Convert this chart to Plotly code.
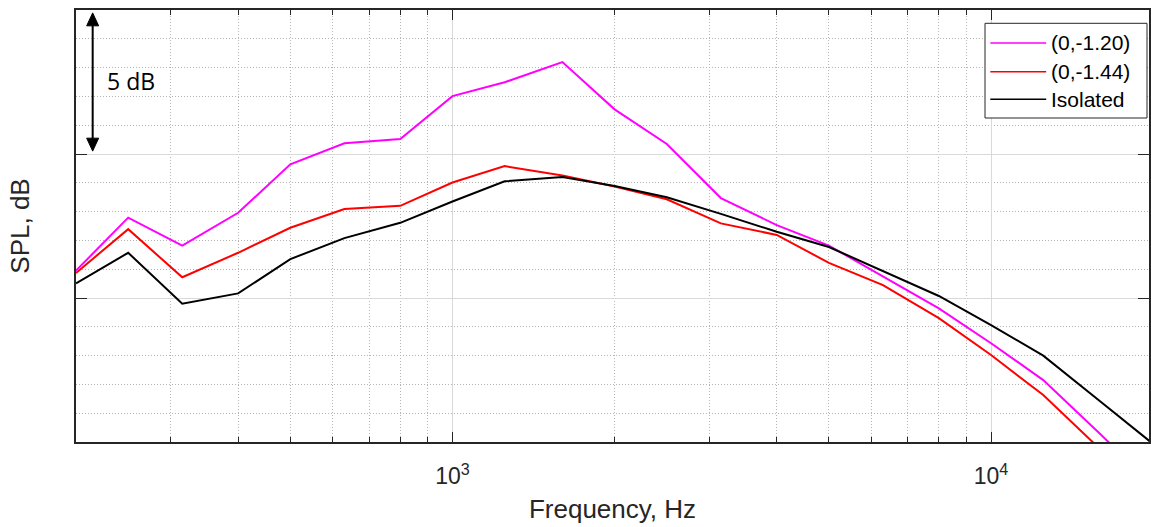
import numpy as np
import plotly.graph_objects as go

# 1/3-octave band centre frequencies (Hz)
freqs = [200, 250, 315, 400, 500, 630, 800, 1000, 1250, 1600, 2000,
         2500, 3150, 4000, 5000, 6300, 8000, 10000, 12500, 16000, 20000]

# Relative SPL per band (dB)
spl_120 = [5.95, 7.79, 6.82, 7.96, 9.64, 10.37, 10.52, 12.01, 12.49, 13.19, 11.55,
           10.35, 8.47, 7.53, 6.82, 5.75, 4.64, 3.43, 2.15, 0.25, -1.5]
spl_144 = [5.87, 7.39, 5.72, 6.57, 7.44, 8.09, 8.20, 9.01, 9.58, 9.25, 8.87,
           8.43, 7.59, 7.19, 6.22, 5.45, 4.30, 3.02, 1.63, -0.26, -2.0]
spl_iso = [5.51, 6.57, 4.80, 5.16, 6.35, 7.08, 7.61, 8.35, 9.05, 9.20, 8.89,
           8.50, 7.92, 7.30, 6.77, 5.94, 5.07, 4.06, 3.00, 1.39, -0.07]

series_names = ["(0,-1.20)", "(0,-1.44)", "Isolated"]
series_colors = ["#FF00FF", "#FF0000", "#000000"]
series_values = [spl_120, spl_144, spl_iso]

minor_freqs = [300, 400, 500, 600, 700, 800, 900,
               2000, 3000, 4000, 5000, 6000, 7000, 8000, 9000, 20000]

AX = "#262626"
FONT = "Liberation Sans, Arial, sans-serif"

fig = go.Figure()
for name, col, vals in zip(series_names, series_colors, series_values):
    fig.add_trace(go.Scatter(x=freqs, y=vals, mode="lines", name=name,
                             line=dict(color=col, width=2), showlegend=False))

W, H = 1151, 527
ml, mr, mt, mb = 76, 0, 10, 85
pw, ph = W - ml - mr, H - mt - mb

def px(xp):
    return (xp - ml) / pw

def py(yp):
    return (H - mb - yp) / ph

fig.update_layout(
    width=W, height=H,
    margin=dict(l=ml, r=mr, t=mt, b=mb, pad=0),
    plot_bgcolor="white", paper_bgcolor="white",
    showlegend=False,
    font=dict(family=FONT, color=AX),
    xaxis=dict(
        type="log", range=[np.log10(200), 4.29325],
        tickvals=[1000, 10000], ticktext=["10<sup>3</sup>", "10<sup>4</sup>"],
        tickfont=dict(size=23, family=FONT, color=AX),
        ticklabelstandoff=13,
        ticks="inside", ticklen=10, tickwidth=1, tickcolor=AX,
        showline=True, linecolor=AX, linewidth=1.5, mirror="ticks",
        showgrid=True, gridcolor="#d9d9d9", gridwidth=1, zeroline=False,
        minor=dict(tickvals=minor_freqs, ticks="inside", ticklen=5, tickwidth=1,
                   tickcolor=AX, showgrid=True, gridcolor="#b4b4b4",
                   griddash="1px,2px", gridwidth=1),
        title=dict(text="Frequency, Hz", font=dict(size=26, family=FONT, color=AX),
                   standoff=11),
    ),
    yaxis=dict(
        range=[0, 15], tickvals=[0, 5, 10, 15], showticklabels=False,
        ticks="inside", ticklen=11, tickwidth=1, tickcolor=AX,
        showline=True, linecolor=AX, linewidth=1.5, mirror="ticks",
        showgrid=True, gridcolor="#d9d9d9", gridwidth=1, zeroline=False,
        minor=dict(dtick=1, ticks="", showgrid=True, gridcolor="#b4b4b4",
                   griddash="1px,2px", gridwidth=1),
        title=dict(text="SPL, dB", font=dict(size=26, family=FONT, color=AX),
                   standoff=37),
    ),
)

# 5 dB scale marker: double-headed arrow spanning one major grid interval
ax_x = px(92.7)
hw = 6 / pw
tip_top, tip_bot, head = 14.9, 10.1, 0.45
fig.add_shape(type="line", xref="paper", yref="y", x0=ax_x, x1=ax_x,
              y0=tip_bot + head * 0.5, y1=tip_top - head * 0.5,
              line=dict(color="black", width=2))
fig.add_shape(type="path", xref="paper", yref="y",
              path=f"M {ax_x},{tip_top} L {ax_x - hw},{tip_top - head} L {ax_x + hw},{tip_top - head} Z",
              fillcolor="black", line=dict(color="black", width=1))
fig.add_shape(type="path", xref="paper", yref="y",
              path=f"M {ax_x},{tip_bot} L {ax_x - hw},{tip_bot + head} L {ax_x + hw},{tip_bot + head} Z",
              fillcolor="black", line=dict(color="black", width=1))
fig.add_annotation(text="5 dB", xref="paper", yref="y", x=px(105), y=12.55,
                   xanchor="left", yanchor="middle", showarrow=False,
                   font=dict(family="Open Sans, DejaVu Sans, sans-serif", size=23, color="black"))

# Legend box
fig.add_shape(type="rect", xref="paper", yref="paper",
              x0=px(986.7), x1=px(1149), y0=py(118), y1=py(23.3),
              fillcolor="white", line=dict(color=AX, width=1), layer="above")
row_y = [43, 71.7, 99.3]
for name, col, ry in zip(series_names, series_colors, row_y):
    fig.add_shape(type="line", xref="paper", yref="paper",
                  x0=px(992), x1=px(1048), y0=py(ry), y1=py(ry),
                  line=dict(color=col, width=1.5), layer="above")
    fig.add_annotation(text=name, xref="paper", yref="paper", x=px(1051), y=py(ry),
                       xanchor="left", yanchor="middle", showarrow=False,
                       font=dict(family=FONT, size=21, color="black"))

fig.write_html("out.html")
